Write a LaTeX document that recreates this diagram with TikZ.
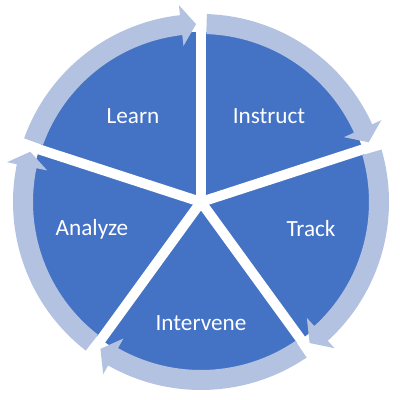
\documentclass[tikz,border=0pt]{standalone}
\usepackage{fontspec}
\setmainfont{Carlito}
\usepackage{xcolor}
\usepackage{tikz}
\usetikzlibrary{positioning,calc}
\definecolor{pieblue}{HTML}{4472C4}
\definecolor{ringblue}{HTML}{B4C2E1}
\tikzstyle{lab}= [text=white, font=\fontsize{16.5}{20}\selectfont]
\tikzstyle{ringarrow}= [fill=ringblue]
\tikzstyle{gapline}= [white, line width=0.25cm]

\begin{document}
\begin{tikzpicture}[x=0.025cm, y=0.025cm]
				\useasboundingbox (-201,-198) rectangle (199,202);
				\fill[pieblue] (0,0) circle[radius=170];
				\foreach \a in {90,18,-54,-126,162}
					\draw[gapline] (0,0) -- (\a:200);
				\foreach \a in {162,90,18,-54,-126}{
					\pgfmathsetmacro{\s}{\a-1.8}
					\pgfmathsetmacro{\e}{\a-72+6.4}
					\pgfmathsetmacro{\t}{\a-72+1.6}
					\fill[ringarrow] (\s:188) arc[start angle=\s, end angle=\e, radius=188]
						-- (\e:198) -- (\t:178) -- (\e:157) -- (\e:168)
						arc[start angle=\e, end angle=\s, radius=168] -- cycle;
				}
				\node[lab] (learn) at (-68, 86) {Learn};
				\node[lab] (instruct) at (68, 86) {Instruct};
				\node[lab] (track) at (110, -27) {Track};
				\node[lab] (intervene) at (0, -121) {Intervene};
				\node[lab] (analyze) at (-109, -27) {Analyze};
			\end{tikzpicture}
\end{document}
